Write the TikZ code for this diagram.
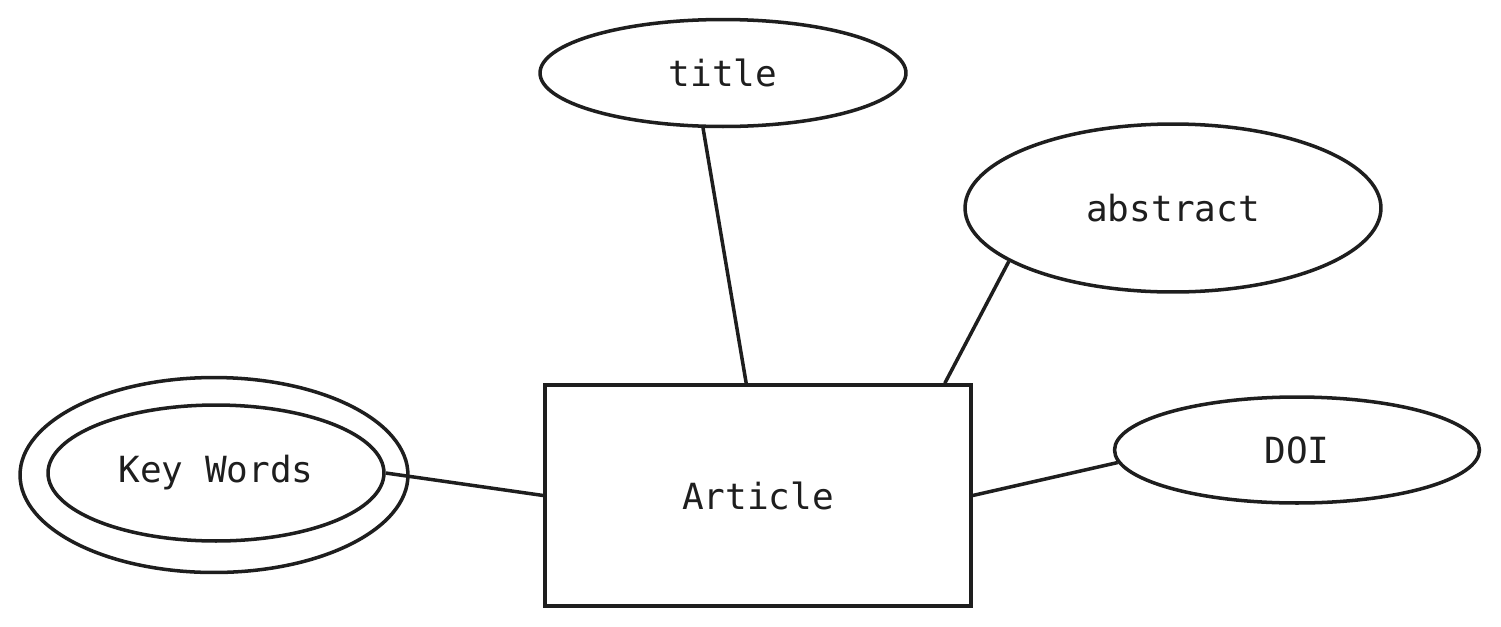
\documentclass[tikz,border=0pt]{standalone}
\usepackage{fontspec}
\setmonofont{DejaVu Sans Mono}
\usetikzlibrary{shapes.geometric}
\definecolor{ink}{HTML}{1E1E1E}
\begin{document}
\begin{tikzpicture}[x=0.02cm,y=-0.02cm]
\tikzset{attr/.style={draw=ink,text=ink,ellipse,line width=2pt,inner sep=0pt,font=\ttfamily\fontsize{20.5}{24}\selectfont},
entity/.style={draw=ink,text=ink,rectangle,line width=2pt,inner sep=0pt,font=\ttfamily\fontsize{20.5}{24}\selectfont},
link/.style={draw=ink,line width=2pt}}
\useasboundingbox (0,0) rectangle (1501,626);
\node[entity,minimum width=8.52cm,minimum height=4.42cm] (article) at (758,495.5) {Article};
\node[attr,minimum width=7.32cm,minimum height=2.14cm] (title) at (723,73) {title};
\node[attr,minimum width=8.32cm,minimum height=3.36cm] (abstract) at (1173,208) {abstract};
\node[attr,minimum width=7.30cm,minimum height=2.12cm] (doi) at (1297,450) {DOI};
\node[attr,minimum width=7.76cm,minimum height=3.90cm] (kwouter) at (214,475) {};
\node[attr,minimum width=6.72cm,minimum height=2.72cm] (kw) at (216,473) {Key Words};
% links
\draw[link] (title.250) -- (article.96);
\draw[link] (abstract.198) -- (article.31);
\draw[link] (doi.184) -- (article.east);
\draw[link] (kw.east) -- (article.west);
\end{tikzpicture}
\end{document}
